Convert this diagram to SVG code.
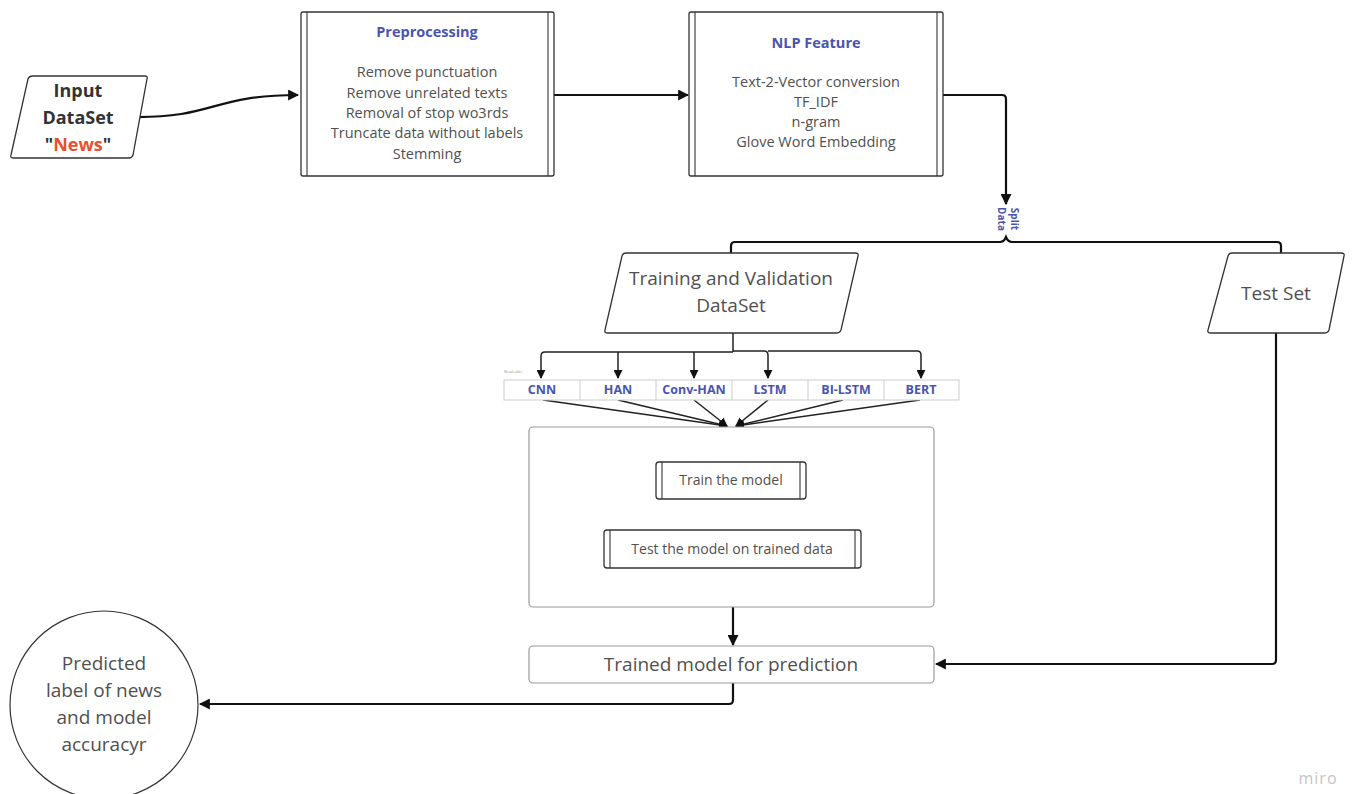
<svg xmlns="http://www.w3.org/2000/svg" width="1354" height="794" viewBox="0 0 1354 794">
  <style>
    .bg { fill: #ffffff; }
    .box { fill: #ffffff; stroke: #333333; stroke-width: 1.3; }
    .inner { stroke: #333333; stroke-width: 1.1; fill: none; }
    .soft { fill: #ffffff; stroke: #9a9a9a; stroke-width: 1.2; }
    .txt { font-family: "Open Sans", "Noto Sans", sans-serif; fill: #505050; text-anchor: middle; }
    .title { font-family: "Open Sans", "Noto Sans", sans-serif; font-weight: bold; fill: #4a54b0; text-anchor: middle; }
    .cell { font-family: "Open Sans", "Noto Sans", sans-serif; font-weight: bold; fill: #4a54b0; text-anchor: middle; font-size: 12.5px; }
    .conn { fill: none; stroke: #111111; stroke-width: 2.2; }
    .thin { fill: none; stroke: #222222; stroke-width: 1.5; }
  </style>
  <defs>
    <marker id="arrow" viewBox="0 0 10 10" refX="9" refY="5" markerWidth="5" markerHeight="5" orient="auto" markerUnits="strokeWidth">
      <path d="M0,0 L10,5 L0,10 z" fill="#111111"/>
    </marker>
    <marker id="arrowThin" viewBox="0 0 10 10" refX="9" refY="5" markerWidth="6" markerHeight="6" orient="auto" markerUnits="strokeWidth">
      <path d="M0,0 L10,5 L0,10 z" fill="#111111"/>
    </marker>
  </defs>

  <rect class="bg" x="0" y="0" width="1354" height="794"/>

  <!-- connectors -->
  <g id="connectors">
    <path class="conn" d="M133,117 C215,118 212,95 298,95" marker-end="url(#arrow)"/>
    <path class="conn" d="M554,95 L688,95" marker-end="url(#arrow)"/>
    <path class="conn" d="M943,95 L1002,95 Q1006,95 1006,99 L1006,204" marker-end="url(#arrow)"/>
    <!-- split brace -->
    <path class="conn" d="M731,253 L731,246 Q731,242 735,242 L1000,242 Q1004,242 1006,237 Q1008,242 1012,242 L1277,242 Q1281,242 1281,246 L1281,253"/>
    <!-- fan-out to the models -->
    <path class="thin" d="M733,333 L733,352"/>
    <path class="thin" d="M733,352 L545,352 Q541,352 541,356 L541,378" marker-end="url(#arrowThin)"/>
    <path class="thin" d="M618,352 L618,378" marker-end="url(#arrowThin)"/>
    <path class="thin" d="M694,352 L694,378" marker-end="url(#arrowThin)"/>
    <path class="thin" d="M733,351 L764,351 Q768,351 768,355 L768,378" marker-end="url(#arrowThin)"/>
    <path class="thin" d="M768,351 L917,351 Q921,351 921,355 L921,378" marker-end="url(#arrowThin)"/>
    <!-- fan-in to training block -->
    <path class="thin" d="M543,400 L727,426" marker-end="url(#arrowThin)"/>
    <path class="thin" d="M618,400 L727,426" marker-end="url(#arrowThin)"/>
    <path class="thin" d="M694,400 L727,426" marker-end="url(#arrowThin)"/>
    <path class="thin" d="M768,400 L736,426" marker-end="url(#arrowThin)"/>
    <path class="thin" d="M843,400 L736,426" marker-end="url(#arrowThin)"/>
    <path class="thin" d="M920,400 L736,426" marker-end="url(#arrowThin)"/>
    <path class="conn" d="M733,607 L733,645" marker-end="url(#arrow)"/>
    <path class="conn" d="M1276,333 L1276,660 Q1276,664 1272,664 L936,664" marker-end="url(#arrow)"/>
    <path class="conn" d="M733,683 L733,700 Q733,704 729,704 L200,704" marker-end="url(#arrow)"/>
  </g>

  <!-- split label -->
  <g id="split-label">
    <text class="title" font-size="10" transform="translate(1006,219) rotate(90)"><tspan x="0" y="-5">Split</tspan><tspan x="0" y="8">Data</tspan></text>
  </g>

  <g id="input">
    <path class="box" d="M33,76 L145,76 Q148,76 147,79 L133,155 Q132,158 129,158 L13,158 Q10,158 11,155 L28,79 Q29,76 33,76 z"/>
    <text class="txt" font-size="18" font-weight="bold" style="fill:#333333"><tspan x="78" y="97">Input</tspan><tspan x="78" y="124">DataSet</tspan><tspan x="78" y="151">"<tspan style="fill:#e8502f">News</tspan>"</tspan></text>
  </g>

  <g id="preprocessing">
    <rect class="box" x="301" y="12" width="253" height="164" rx="2"/>
    <line class="inner" x1="307" y1="12" x2="307" y2="176"/>
    <line class="inner" x1="548" y1="12" x2="548" y2="176"/>
    <text class="title" x="427" y="37" font-size="14.5">Preprocessing</text>
    <text class="txt" font-size="14.5"><tspan x="427" y="77">Remove punctuation</tspan><tspan x="427" y="98">Remove unrelated texts</tspan><tspan x="427" y="118">Removal of stop wo3rds</tspan><tspan x="427" y="138">Truncate data without labels</tspan><tspan x="427" y="159">Stemming</tspan></text>
  </g>

  <g id="nlp-feature">
    <rect class="box" x="689" y="12" width="254" height="164" rx="2"/>
    <line class="inner" x1="695" y1="12" x2="695" y2="176"/>
    <line class="inner" x1="937" y1="12" x2="937" y2="176"/>
    <text class="title" x="816" y="48" font-size="14.5">NLP Feature</text>
    <text class="txt" font-size="14.5"><tspan x="816" y="87">Text-2-Vector conversion</tspan><tspan x="816" y="107">TF_IDF</tspan><tspan x="816" y="127">n-gram</tspan><tspan x="816" y="147">Glove Word Embedding</tspan></text>
  </g>

  <g id="training-set">
    <path class="box" d="M626,253 L855,253 Q859,253 858,256 L841,330 Q840,333 836,333 L608,333 Q604,333 605,330 L622,256 Q623,253 626,253 z"/>
    <text class="txt" font-size="19"><tspan x="731" y="285">Training and Validation</tspan><tspan x="731" y="312">DataSet</tspan></text>
  </g>

  <g id="test-set">
    <path class="box" d="M1232,253 L1341,253 Q1345,253 1344,256 L1329,330 Q1328,333 1324,333 L1211,333 Q1207,333 1208,330 L1228,256 Q1229,253 1232,253 z"/>
    <text class="txt" x="1276" y="300" font-size="19">Test Set</text>
  </g>

  <g id="model-table">
    <text x="504" y="373" font-family="Open Sans, sans-serif" font-size="4" fill="#999999">NewLable</text>
    <rect x="504" y="380" width="455" height="20" fill="#ffffff" stroke="#cccccc" stroke-width="1"/>
    <g stroke="#cccccc" stroke-width="1">
      <line x1="580" y1="380" x2="580" y2="400"/>
      <line x1="656" y1="380" x2="656" y2="400"/>
      <line x1="732" y1="380" x2="732" y2="400"/>
      <line x1="808" y1="380" x2="808" y2="400"/>
      <line x1="884" y1="380" x2="884" y2="400"/>
    </g>
    <text class="cell" x="542" y="394">CNN</text>
    <text class="cell" x="618" y="394">HAN</text>
    <text class="cell" x="694" y="394">Conv-HAN</text>
    <text class="cell" x="770" y="394">LSTM</text>
    <text class="cell" x="846" y="394">BI-LSTM</text>
    <text class="cell" x="921" y="394">BERT</text>
  </g>

  <g id="training-block">
    <rect class="soft" x="529" y="427" width="405" height="180" rx="4"/>
  </g>

  <g id="train-model">
    <rect class="box" x="656" y="462" width="150" height="37" rx="3" stroke-width="1.1"/>
    <line class="inner" x1="662" y1="462" x2="662" y2="499"/>
    <line class="inner" x1="800" y1="462" x2="800" y2="499"/>
    <text class="txt" x="731" y="485" font-size="14">Train the model</text>
  </g>

  <g id="test-model">
    <rect class="box" x="604" y="530" width="257" height="38" rx="3" stroke-width="1.1"/>
    <line class="inner" x1="610" y1="530" x2="610" y2="568"/>
    <line class="inner" x1="855" y1="530" x2="855" y2="568"/>
    <text class="txt" x="732" y="554" font-size="14">Test the model on trained data</text>
  </g>

  <g id="trained-model">
    <rect class="soft" x="529" y="646" width="405" height="37" rx="4"/>
    <text class="txt" x="731" y="671" font-size="19">Trained model for prediction</text>
  </g>

  <g id="prediction">
    <circle cx="104" cy="705" r="94" fill="#ffffff" stroke="#333333" stroke-width="1.2"/>
    <text class="txt" font-size="19"><tspan x="104" y="670">Predicted</tspan><tspan x="104" y="697">label of news</tspan><tspan x="104" y="724">and model</tspan><tspan x="104" y="751">accuracyr</tspan></text>
  </g>

  <text x="1318" y="784" font-family="Open Sans, sans-serif" font-size="16" fill="#c4c4c4" text-anchor="middle" letter-spacing="1">miro</text>
</svg>
